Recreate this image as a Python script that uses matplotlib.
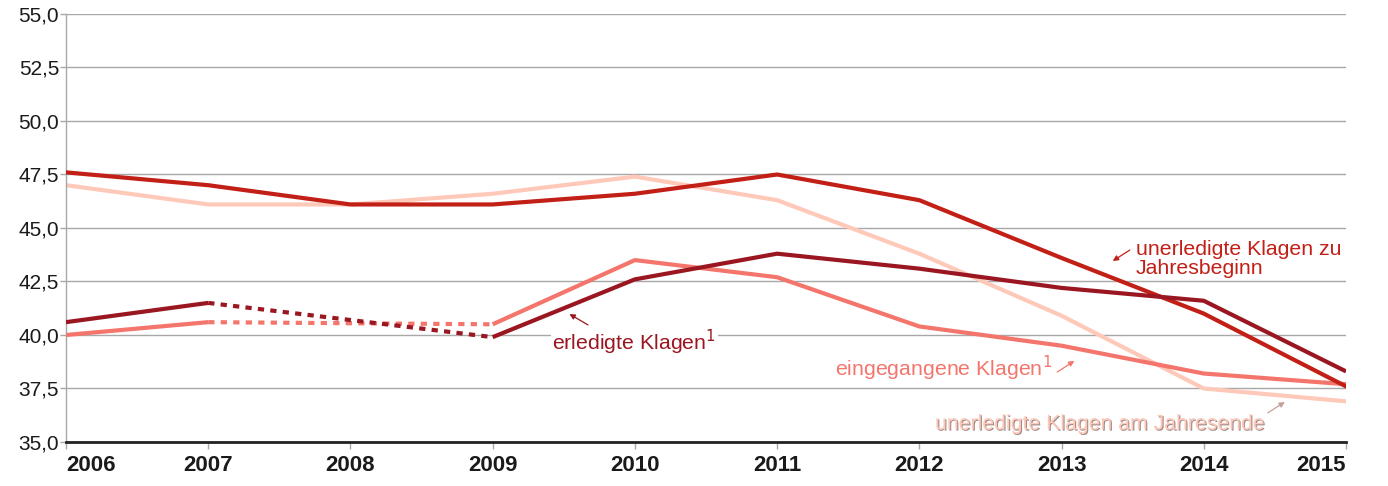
import numpy as np
import matplotlib
matplotlib.use("Agg")
import matplotlib.pyplot as plt
import matplotlib.patheffects as pe
from matplotlib.ticker import FuncFormatter

plt.rcParams['font.family'] = ['Liberation Sans', 'DejaVu Sans']

years = [2006, 2007, 2008, 2009, 2010, 2011, 2012, 2013, 2014, 2015]

# unerledigte Klagen zu Jahresbeginn
beginn = [47.6, 47.0, 46.1, 46.1, 46.6, 47.5, 46.3, 43.6, 41.0, 37.6]
# unerledigte Klagen am Jahresende
ende = [47.0, 46.1, 46.1, 46.6, 47.4, 46.3, 43.8, 40.9, 37.5, 36.9]
# erledigte Klagen (2008 fehlt)
erledigt = [40.6, 41.5, np.nan, 39.9, 42.6, 43.8, 43.1, 42.2, 41.6, 38.3]
# eingegangene Klagen (2008 fehlt)
eingang = [40.0, 40.6, np.nan, 40.5, 43.5, 42.7, 40.4, 39.5, 38.2, 37.7]

c_beginn = '#c21f16'
c_ende = '#ffc9ba'
c_erl = '#9a1620'
c_ein = '#f3756c'

fig = plt.figure(figsize=(13.88, 4.86), dpi=100)
ax = fig.add_axes([66 / 1388, 1 - 442 / 486, 1280 / 1388, 428 / 486])

lw = 3.0
x = np.array(years)


def gap_line(vals, color):
    v = np.array(vals)
    ax.plot(x, v, color=color, lw=lw, solid_capstyle='butt', zorder=3)
    # gepunktete Verbindung ueber die Luecke
    for i in range(1, len(v) - 1):
        if np.isnan(v[i]):
            a = i - 1
            b = i + 1
            ax.plot([x[a], x[b]], [v[a], v[b]], color=color, lw=lw,
                    linestyle=(0, (1.5, 1.5)), dash_capstyle='butt', zorder=3)


ax.plot(x, ende, color=c_ende, lw=lw, zorder=2)
gap_line(eingang, c_ein)
ax.plot(x, beginn, color=c_beginn, lw=lw, zorder=3)
gap_line(erledigt, c_erl)

ax.set_xlim(2006, 2015)
ax.set_ylim(35, 55)
ax.set_yticks(np.arange(35, 55.1, 2.5))
ax.set_xticks(years)
ax.yaxis.set_major_formatter(FuncFormatter(lambda v, p: f"{v:.1f}".replace('.', ',')))
ax.grid(axis='y', color='#a8a8a8', lw=1.0, zorder=0)
ax.set_axisbelow(True)

for s in ['top', 'right']:
    ax.spines[s].set_visible(False)
ax.spines['left'].set_color('#a8a8a8')
ax.spines['left'].set_linewidth(1.0)
ax.spines['bottom'].set_color('#222222')
ax.spines['bottom'].set_linewidth(2.0)
ax.spines['bottom'].set_zorder(4)

ax.tick_params(axis='x', length=5, width=1, color='#a8a8a8', pad=4,
               labelsize=16, labelcolor='#1a1a1a')
ax.tick_params(axis='y', length=4, width=1, color='#a8a8a8', pad=1,
               labelsize=15, labelcolor='#1a1a1a')
for t in ax.get_xticklabels():
    t.set_fontweight('bold')
ax.get_xticklabels()[0].set_horizontalalignment('left')
ax.get_xticklabels()[-1].set_horizontalalignment('right')

arr = dict(arrowstyle='-|>', lw=0.9, mutation_scale=8, shrinkA=0, shrinkB=0)
fs = 15.3

ax.text(2013.52, 43.55, 'unerledigte Klagen zu\nJahresbeginn', color=c_beginn,
        fontsize=fs, ha='left', va='center', linespacing=0.95)
ax.annotate('', xy=(2013.36, 43.46), xytext=(2013.48, 43.97),
            arrowprops=dict(color=c_beginn, **arr))

ax.text(2009.42, 39.67, 'erledigte Klagen$^1$', color=c_erl, fontsize=fs,
        ha='left', va='center', zorder=5,
        bbox=dict(facecolor='white', edgecolor='none', pad=1))
ax.annotate('', xy=(2009.54, 40.98), xytext=(2009.67, 40.47),
            arrowprops=dict(color=c_erl, **arr))

ax.text(2011.41, 38.46, 'eingegangene Klagen$^1$', color=c_ein, fontsize=fs,
        ha='left', va='center', zorder=5)
ax.annotate('', xy=(2013.09, 38.79), xytext=(2012.97, 38.27),
            arrowprops=dict(color=c_ein, **arr))

ax.text(2012.11, 35.84, 'unerledigte Klagen am Jahresende', color=c_ende,
        fontsize=fs, ha='left', va='center', zorder=5,
        path_effects=[pe.withSimplePatchShadow(offset=(0.8, -0.8),
                                               shadow_rgbFace='#7a5a55', alpha=0.7)])
ax.annotate('', xy=(2014.57, 36.87), xytext=(2014.45, 36.36),
            arrowprops=dict(color='#c8a09a', **arr))

fig.savefig('out.png', dpi=100)
